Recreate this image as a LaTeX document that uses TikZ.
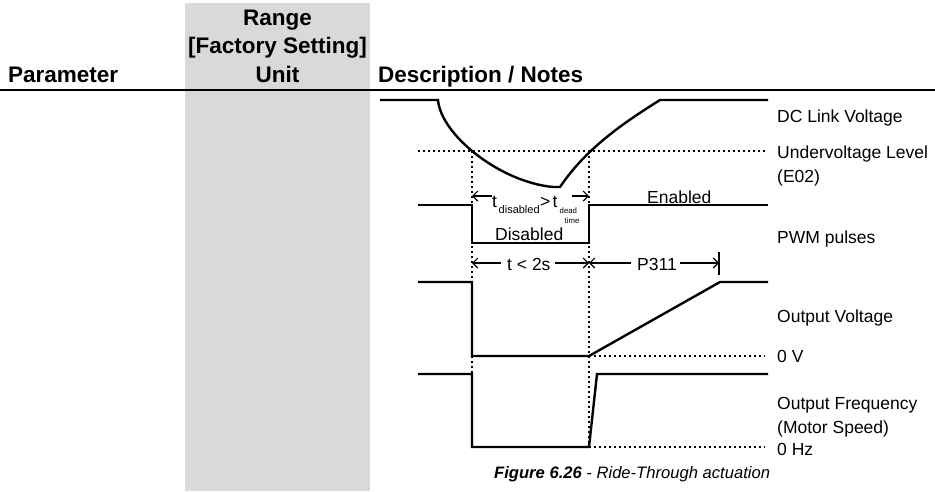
\documentclass[tikz,border=0pt]{standalone}
\usepackage{fontspec}
\setmainfont{Liberation Sans}
\usetikzlibrary{arrows.meta}
\definecolor{colGrey}{RGB}{217,217,217}
\begin{document}
\begin{tikzpicture}[x=1pt,y=-1pt,
  wave/.style={line width=2.4pt, line join=miter},
  dotline/.style={line width=1.1pt, dash pattern=on 2.4pt off 2.6pt},
  dimarrow/.style={line width=1.1pt, -{Straight Barb[length=5pt,width=10pt,line width=1.1pt]}},
  lbl/.style={anchor=base west, inner sep=0pt, font=\fontsize{17.5}{21}\selectfont},
  sub/.style={anchor=base west, inner sep=0pt, font=\fontsize{11}{13}\selectfont},
  subsub/.style={anchor=base west, inner sep=0pt, font=\fontsize{7.8}{9}\selectfont},
  hdr/.style={anchor=base, inner sep=0pt, font=\bfseries\fontsize{22.5}{28}\selectfont},
  hdrw/.style={anchor=base west, inner sep=0pt, font=\bfseries\fontsize{22.5}{28}\selectfont},
]
\path[use as bounding box] (0,0) rectangle (935,491);
% grey column
\fill[colGrey] (185,3) rectangle (370,491);
% headers
\node[hdr] (hRange) at (277.5,25) {Range};
\node[hdr] (hFact) at (277.5,53) {[Factory Setting]};
\node[hdr] (hUnit) at (277.5,82) {Unit};
\node[hdrw] (hPar) at (8,82) {Parameter};
\node[hdrw] (hDesc) at (378,82) {Description / Notes};
\draw[line width=2.4pt] (0,90) -- (935,90);

% dotted guides
\draw[dotline] (418,151) -- (767,151);
\draw[dotline] (472,151) -- (472,447);
\draw[dotline] (589,151) -- (589,447);
\draw[dotline] (589,356) -- (765,356);
\draw[dotline] (589,447) -- (765,447);

% DC link voltage
\draw[wave] (380,100) -- (438,100) .. controls (441,135) and (500,182) .. (553,187)
  -- (560,187) .. controls (585,150) and (620,125) .. (660,100) -- (768,100);

% PWM pulses
\draw[wave] (418,205) -- (472,205) -- (472,243) -- (589,243) -- (589,205) -- (768,205);

% output voltage
\draw[wave] (418,282) -- (472,282) -- (472,356) -- (589,356) -- (720,282) -- (768,282);

% output frequency
\draw[wave] (418,374) -- (472,374) -- (472,447) -- (589,447) -- (597,374) -- (768,374);

% t_disabled > t_dead time
\coordinate (dA) at (472,196);
\coordinate (dB) at (492,196);
\coordinate (dC) at (572,196);
\coordinate (dD) at (589,196);
\draw[dimarrow] (dB) -- (dA);
\draw[dimarrow] (dC) -- (dD);
\node[lbl] (t1) at (492,207) {t};
\node[sub] (s1) at (498.5,213) {disabled};
\node[lbl] (gt) at (540,207) {>};
\node[lbl] (t2) at (552.5,207) {t};
\node[subsub] (s2) at (559.5,213) {dead};
\node[subsub] (s3) at (564.5,223) {time};

\node[lbl] (en) at (647,203) {Enabled};
\node[lbl] (dis) at (495,240) {Disabled};

% t < 2s and P311
\coordinate (a1) at (472,263);
\coordinate (a2) at (501,263);
\coordinate (a3) at (555,263);
\coordinate (a4) at (589,263);
\coordinate (a5) at (631,263);
\coordinate (a6) at (680,263);
\coordinate (a7) at (719,263);
\draw[dimarrow] (a2) -- (a1);
\draw[dimarrow] (a3) -- (a4);
\draw[dimarrow] (a5) -- (a4);
\draw[dimarrow] (a6) -- (a7);
\draw[line width=1.1pt] (719,252) -- (719,275);
\node[lbl] (t2s) at (507,270) {t < 2s};
\node[lbl] (p311) at (637,270) {P311};

% right labels
\node[lbl] (l1) at (777,122) {DC Link Voltage};
\node[lbl] (l2) at (777,158) {Undervoltage Level};
\node[lbl] (l3) at (777,182) {(E02)};
\node[lbl] (l4) at (777,243) {PWM pulses};
\node[lbl] (l5) at (777,322) {Output Voltage};
\node[lbl] (l6) at (777,362) {0 V};
\node[lbl] (l7) at (777,409) {Output Frequency};
\node[lbl] (l8) at (777,433) {(Motor Speed)};
\node[lbl] (l9) at (777,455) {0 Hz};

% caption
\node[anchor=base west, inner sep=0pt, font=\fontsize{16.6}{20}\selectfont\itshape] (cap) at (494,478)
  {\textbf{Figure 6.26} - Ride-Through actuation};
\end{tikzpicture}
\end{document}
